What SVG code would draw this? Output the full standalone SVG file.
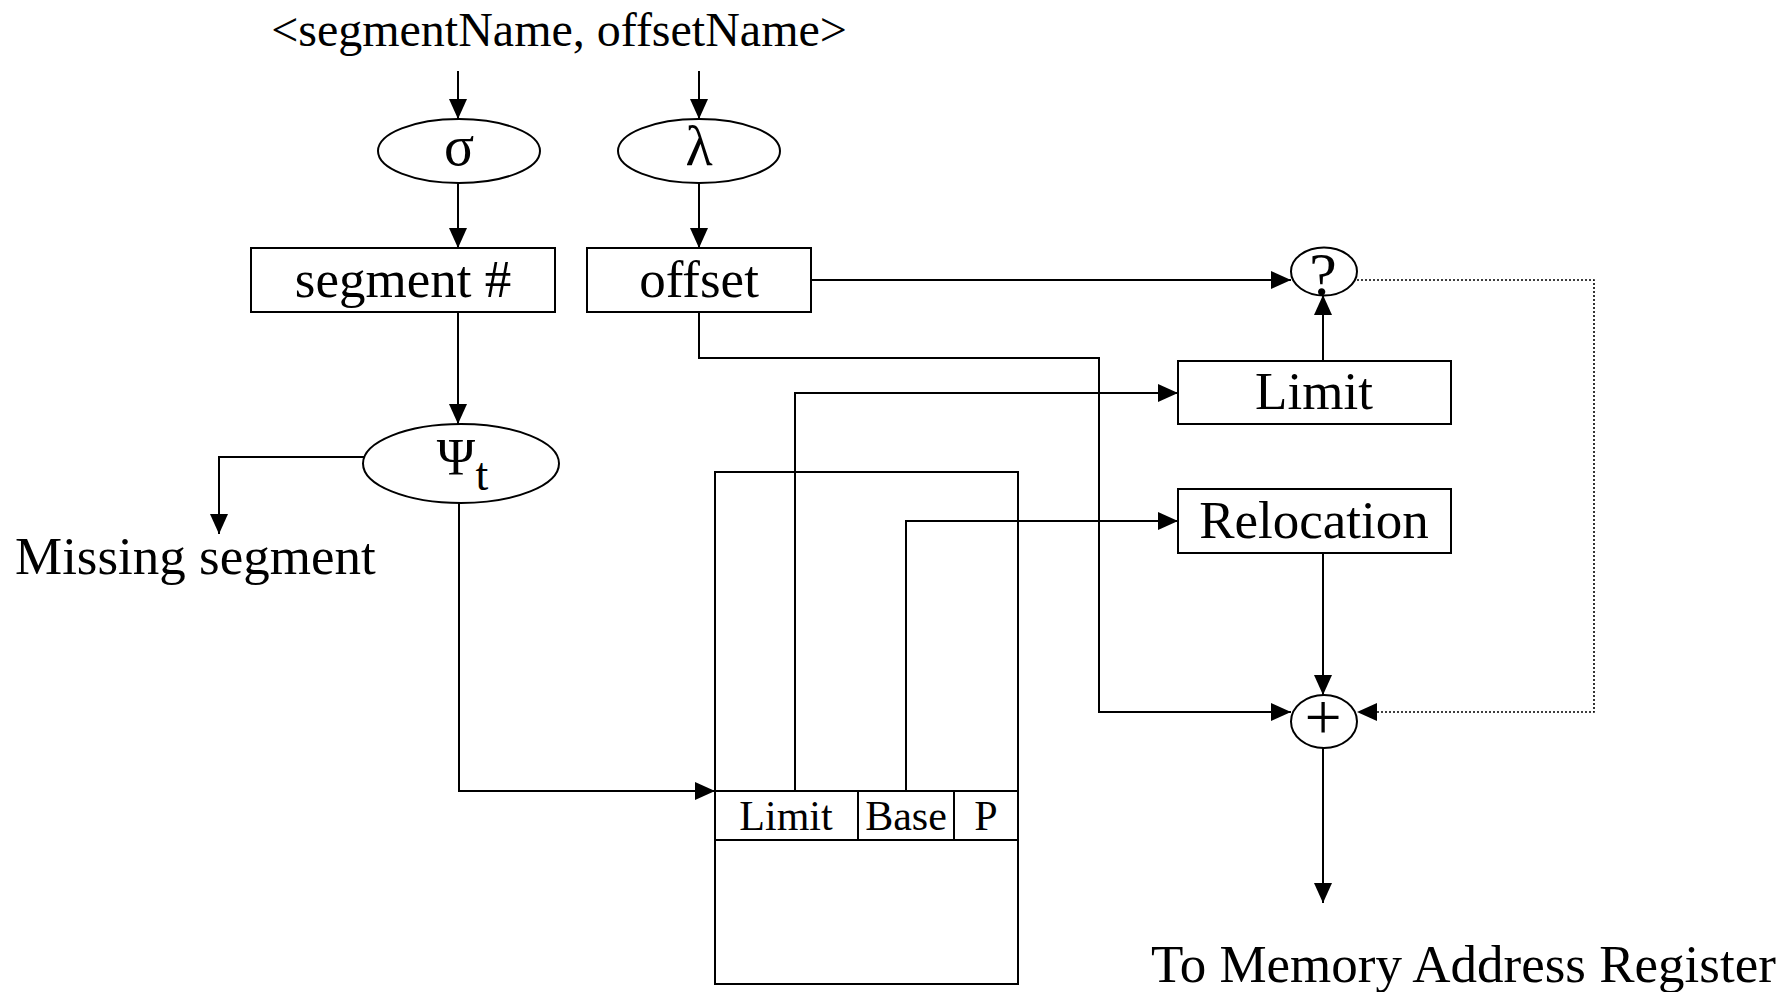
<svg xmlns="http://www.w3.org/2000/svg" width="1790" height="992" viewBox="0 0 1790 992">
<style>
.shape{fill:#fff;stroke:#000;stroke-width:2}
.open{fill:none;stroke:#000;stroke-width:2}
.t{font-family:"Liberation Serif","Times New Roman",serif;fill:#000;text-anchor:middle}
.c{fill:none;stroke:#000;stroke-width:2}
.d{fill:none;stroke:#000;stroke-width:1.6;stroke-dasharray:2 2}
</style>
<defs>
<marker id="ah" viewBox="0 0 20 18" markerWidth="20" markerHeight="18" refX="20" refY="9" orient="auto" markerUnits="userSpaceOnUse">
<path d="M0,0 L20,9 L0,18 z" fill="#000"/>
</marker>
</defs>
<rect width="1790" height="992" fill="#fff"/>
<g id="connectors">
<path class="c" d="M458,71 V119" marker-end="url(#ah)"/>
<path class="c" d="M699,71 V119" marker-end="url(#ah)"/>
<path class="c" d="M458,183 V248" marker-end="url(#ah)"/>
<path class="c" d="M699,183 V248" marker-end="url(#ah)"/>
<path class="c" d="M458,312 V424" marker-end="url(#ah)"/>
<path class="c" d="M364,457 H219 V534" marker-end="url(#ah)"/>
<path class="c" d="M459,503 V791 H715" marker-end="url(#ah)"/>
<path class="c" d="M811,280 H1291" marker-end="url(#ah)"/>
<path class="c" d="M699,312 V358 H1099 V712 H1291" marker-end="url(#ah)"/>
<path class="c" d="M795,791 V393 H1178" marker-end="url(#ah)"/>
<path class="c" d="M906,791 V521 H1178" marker-end="url(#ah)"/>
<path class="c" d="M1323,361 V295" marker-end="url(#ah)"/>
<path class="c" d="M1323,553 V695" marker-end="url(#ah)"/>
<path class="d" d="M1357,280 H1594 V712 H1376"/>
<path d="M1357,712 L1377,703 L1377,721 z" fill="#000"/>
<path class="c" d="M1323,748 V903" marker-end="url(#ah)"/>
</g>
<g id="title"><text class="t" x="559" y="46" font-size="48">&lt;segmentName, offsetName&gt;</text></g>
<g id="sigma"><ellipse class="shape" cx="459" cy="151" rx="81" ry="32"/><text class="t" x="459" y="165" font-size="56">σ</text></g>
<g id="lambda"><ellipse class="shape" cx="699" cy="151" rx="81" ry="32"/><text class="t" x="699" y="165" font-size="56">λ</text></g>
<g id="segment"><rect class="shape" x="251" y="248" width="304" height="64"/><text class="t" x="403" y="297" font-size="53">segment #</text></g>
<g id="offset"><rect class="shape" x="587" y="248" width="224" height="64"/><text class="t" x="699" y="297" font-size="53">offset</text></g>
<g id="psi"><ellipse class="shape" cx="461" cy="463.5" rx="98" ry="39.5"/><text class="t" x="456" y="475" font-size="52">Ψ</text><text class="t" x="482" y="490" font-size="46">t</text></g>
<g id="missing"><text class="t" x="15" y="574" font-size="53" style="text-anchor:start">Missing segment</text></g>
<g id="table">
<rect class="open" x="715" y="472" width="303" height="512"/>
<rect class="open" x="715" y="791" width="303" height="49"/>
<line class="c" x1="858" y1="791" x2="858" y2="840"/>
<line class="c" x1="954" y1="791" x2="954" y2="840"/>
<text class="t" x="786" y="830" font-size="42">Limit</text>
<text class="t" x="906" y="830" font-size="42">Base</text>
<text class="t" x="986" y="830" font-size="42">P</text>
</g>
<g id="check"><ellipse class="shape" cx="1324" cy="271.5" rx="33" ry="24"/><text class="t" x="1323" y="295" font-size="62">?</text></g>
<g id="limit"><rect class="shape" x="1178" y="361" width="273" height="63"/><text class="t" x="1314" y="409" font-size="53">Limit</text></g>
<g id="relocation"><rect class="shape" x="1178" y="489" width="273" height="64"/><text class="t" x="1314" y="538" font-size="53">Relocation</text></g>
<g id="adder"><ellipse class="shape" cx="1324" cy="721.5" rx="33" ry="26.5"/><text class="t" x="1323" y="739" font-size="66">+</text></g>
<g id="output"><text class="t" x="1151" y="982" font-size="53" style="text-anchor:start">To Memory Address Register</text></g>
</svg>
